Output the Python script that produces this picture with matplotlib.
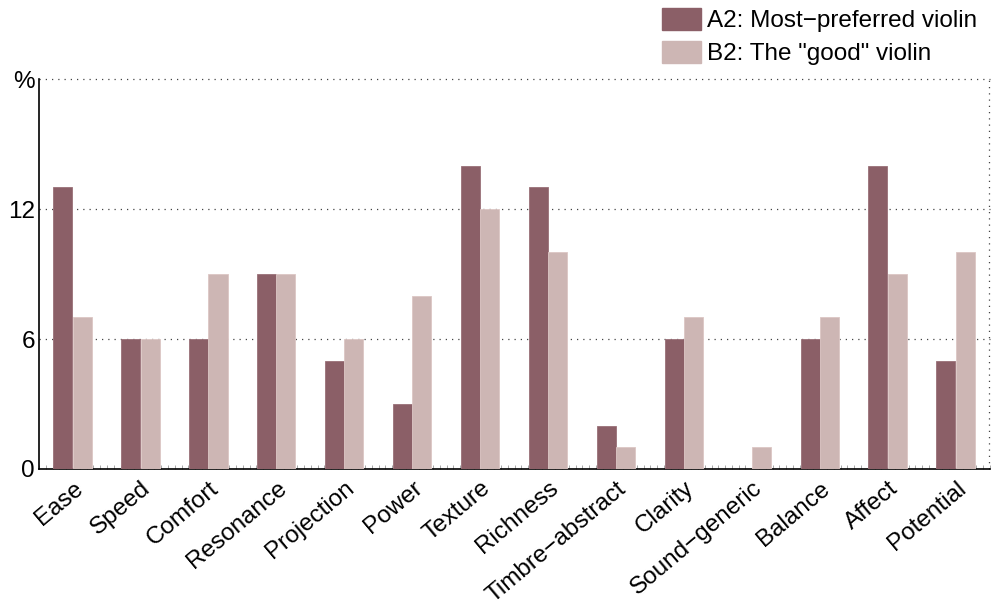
import matplotlib
matplotlib.use("Agg")
import matplotlib.pyplot as plt
import numpy as np
from matplotlib.patches import Patch

plt.rcParams['font.family'] = ['Liberation Sans', 'DejaVu Sans']

categories = ["Ease", "Speed", "Comfort", "Resonance", "Projection", "Power",
              "Texture", "Richness", "Timbre\u2212abstract", "Clarity",
              "Sound\u2212generic", "Balance", "Affect", "Potential"]
most_preferred = [13, 6, 6, 9, 5, 3, 14, 13, 2, 6, 0, 6, 14, 5]
good_violin = [7, 6, 9, 9, 6, 8, 12, 10, 1, 7, 1, 7, 9, 10]
series_labels = ["A2: Most\u2212preferred violin", 'B2: The "good" violin']
y_ticks = [0, 6, 12, 18]
y_tick_labels = ["0", "6", "12", "%"]

col_a = "#8b5f67"
col_b = "#cdb6b4"
fs = 17.5

fig = plt.figure(figsize=(9.95, 6.05), dpi=100)
ax = fig.add_axes([0.0392, 0.2248, 0.9558, 0.6446])

x = np.arange(len(categories))
w = 0.28
ax.bar(x + 0.35, most_preferred, width=w, color=col_a, edgecolor="#9a7078", linewidth=0.6, zorder=3)
ax.bar(x + 0.635, good_violin, width=w, color=col_b, edgecolor="#dcc6c4", linewidth=0.6, zorder=3)

ax.set_xlim(0, len(categories))
ax.set_ylim(0, 18)

# dotted grid at the y ticks and right-hand frame
for yv in y_ticks[1:]:
    ax.axhline(yv, color="#444444", linestyle=(0, (1, 4)), linewidth=0.9, zorder=1, clip_on=False)
ax.axvline(len(categories) - 0.01, color="#444444", linestyle=(0, (1, 4)), linewidth=0.9, zorder=1, clip_on=False)

for s in ["top", "right"]:
    ax.spines[s].set_visible(False)
ax.spines["left"].set_linewidth(1.2)
ax.spines["bottom"].set_linewidth(1.2)

ax.set_yticks(y_ticks)
ax.set_yticklabels(y_tick_labels, fontsize=fs)
ax.tick_params(axis="y", length=0, pad=3)

ax.set_xticks(x + 0.5)
ax.set_xticklabels(categories, fontsize=fs, rotation=40, ha="right", rotation_mode="anchor")
ax.tick_params(axis="x", length=0, pad=6)
ax.set_xticks(np.arange(0, len(categories) + 0.001, 0.1), minor=True)
ax.tick_params(axis="x", which="minor", direction="in", length=3, color="#999999", width=0.6)

handles = [Patch(facecolor=col_a, edgecolor=col_a), Patch(facecolor=col_b, edgecolor=col_b)]
fig.legend(handles, series_labels, loc="upper left", bbox_to_anchor=(0.656, 1.003),
           frameon=False, fontsize=fs, handlelength=1.6, handleheight=1.0,
           handletextpad=0.25, labelspacing=0.37, borderaxespad=0.0)

fig.savefig("out.png", dpi=100)
